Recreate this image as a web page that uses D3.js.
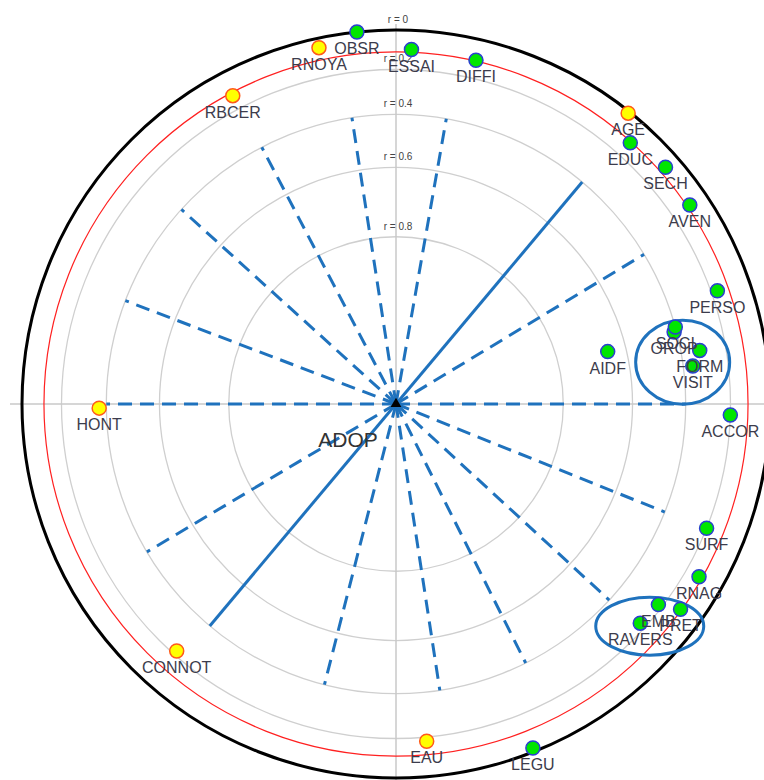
<!DOCTYPE html>
<html>
    <head>
        <meta charset="utf-8">
        <title>ADOP</title>
        <script type="text/javascript" src="https://cdnjs.cloudflare.com/ajax/libs/d3/7.8.5/d3.min.js"></script>
        <style>
            body { margin: 0; background: #fff; }
            text { font-family: "Liberation Sans", Arial, sans-serif; }
        </style>
    </head>
    <body>
        <script type="text/javascript">
            // variables: name, correlation with ADOP (negative = yellow), angle (deg, clockwise from top)
            var varNames = ['OBSR', 'RNOYA', 'ESSAI', 'DIFFI', 'RBCER', 'AGE', 'EDUC', 'SECH', 'AVEN', 'PERSO',
                'OROP', 'SOCI', 'FORM', 'VISIT', 'AIDF', 'ACCOR', 'SURF', 'RNAG', 'EMB', 'PRET', 'RAVERS',
                'EAU', 'LEGU', 'HONT', 'CONNOT'];
            var corr = [0.00, -0.05, 0.10, 0.11, -0.13, -0.01, 0.12, 0.08, 0.10, 0.17,
                0.41, 0.40, 0.32, 0.36, 0.66, 0.20, 0.20, 0.13, 0.22, 0.12, 0.23,
                -0.18, 0.02, -0.37, -0.22];
            var angles = [-6.0, -12.2, 2.5, 13.1, -27.9, 38.6, 41.9, 48.7, 55.9, 70.6,
                75.5, 74.6, 80.0, 82.7, 76.1, 91.9, 111.8, 119.7, 127.4, 125.8, 131.9,
                174.8, 158.3, 269.2, 221.6];

            var gridR = [0, 0.2, 0.4, 0.6, 0.8];
            var gridLabels = ['r = 0', 'r = 0.2', 'r = 0.4', 'r = 0.6', 'r = 0.8'];
            var threshold = 0.114;   // red circle

            // blue lines drawn out to r = 0.4
            var lineR = 0.4;
            var dashAngles = [-69.1, -47.8, -27.6, -8.75, 10, 58.9, 90, 111.9, 132.6, 153.4, 171.3, 194.3, 239.3, 270];
            var solidAngles = [40, 220];

            // groups circled by hand: centre angle, centre r
            var groupAngles = [81.7, 131.2];
            var groupR = [0.40, 0.187];
            var groupSize = [[47, 42], [54, 29]];

            var cx = 396, cy = 404, R = 374;

            var svg = d3.select('body').append('svg')
                .attr('width', 764)
                .attr('height', 780);

            // distance from centre = R * sqrt(1 - |r|)
            var dist = d3.scaleSqrt().domain([0, 1]).range([0, R]);
            var ang = d3.scaleLinear().domain([0, 360]).range([0, 2 * Math.PI]);
            function rad(r) { return dist(1 - Math.abs(r)); }
            function px(a, r) { return cx + rad(r) * Math.sin(ang(a)); }
            function py(a, r) { return cy - rad(r) * Math.cos(ang(a)); }

            // grey circles
            svg.selectAll('.grid').data(gridR.slice(1)).enter().append('circle')
                .attr('cx', cx).attr('cy', cy)
                .attr('r', function(d) { return rad(d); })
                .attr('fill', 'none')
                .attr('stroke', '#cfcfcf')
                .attr('stroke-width', 1.3);

            // axes
            svg.append('line').attr('x1', cx - R - 12).attr('x2', cx + R + 12)
                .attr('y1', cy).attr('y2', cy)
                .attr('stroke', '#c8c8c8').attr('stroke-width', 1.5);
            svg.append('line').attr('x1', cx).attr('x2', cx)
                .attr('y1', cy - R - 6).attr('y2', cy + R + 12)
                .attr('stroke', '#c8c8c8').attr('stroke-width', 1.5);

            // threshold and outer circle
            svg.append('circle').attr('cx', cx).attr('cy', cy)
                .attr('r', rad(threshold))
                .attr('fill', 'none').attr('stroke', '#ff2020').attr('stroke-width', 1.2);
            svg.append('circle').attr('cx', cx).attr('cy', cy)
                .attr('r', rad(0))
                .attr('fill', 'none').attr('stroke', '#000').attr('stroke-width', 3);

            svg.selectAll('.glab').data(gridR).enter().append('text')
                .attr('x', cx + 2)
                .attr('y', function(d) { return cy - rad(d) - 7; })
                .attr('text-anchor', 'middle')
                .attr('font-size', 10)
                .attr('fill', '#444')
                .text(function(d, i) { return gridLabels[i]; });

            // blue lines
            svg.selectAll('.dash').data(dashAngles).enter().append('line')
                .attr('x1', cx).attr('y1', cy)
                .attr('x2', function(d) { return px(d, lineR); })
                .attr('y2', function(d) { return py(d, lineR); })
                .attr('stroke', '#1f72bd')
                .attr('stroke-width', 3)
                .attr('stroke-dasharray', '14,8');
            svg.append('line')
                .attr('x1', px(solidAngles[0], lineR)).attr('y1', py(solidAngles[0], lineR))
                .attr('x2', px(solidAngles[1], lineR)).attr('y2', py(solidAngles[1], lineR))
                .attr('stroke', '#1f72bd')
                .attr('stroke-width', 3);

            // centre mark
            svg.append('path')
                .attr('d', d3.symbol().type(d3.symbolTriangle).size(50))
                .attr('transform', 'translate(' + cx + ',' + cy + ')')
                .attr('fill', '#000');

            svg.append('text')
                .attr('x', cx - 48).attr('y', cy + 43)
                .attr('text-anchor', 'middle')
                .attr('font-size', 21)
                .attr('fill', '#333')
                .text('ADOP');

            // hand-drawn ellipses
            svg.selectAll('.grp').data(groupAngles).enter().append('ellipse')
                .attr('cx', function(d, i) { return px(d, groupR[i]); })
                .attr('cy', function(d, i) { return py(d, groupR[i]); })
                .attr('rx', function(d, i) { return groupSize[i][0]; })
                .attr('ry', function(d, i) { return groupSize[i][1]; })
                .attr('fill', 'none')
                .attr('stroke', '#1f72bd')
                .attr('stroke-width', 3);

            // points
            svg.selectAll('.pt').data(varNames).enter().append('circle')
                .attr('cx', function(d, i) { return px(angles[i], corr[i]); })
                .attr('cy', function(d, i) { return py(angles[i], corr[i]); })
                .attr('r', 7)
                .attr('fill', function(d, i) { return corr[i] < 0 ? '#ffff00' : '#00e600'; })
                .attr('stroke', function(d, i) { return corr[i] < 0 ? '#ff5a1a' : '#2a3fd0'; })
                .attr('stroke-width', 1.5);

            svg.selectAll('.lab').data(varNames).enter().append('text')
                .attr('x', function(d, i) { return px(angles[i], corr[i]); })
                .attr('y', function(d, i) { return py(angles[i], corr[i]) + 22; })
                .attr('text-anchor', 'middle')
                .attr('font-size', 16)
                .attr('fill', '#3c3c4c')
                .text(function(d) { return d; });
        </script>
    </body>
</html>
